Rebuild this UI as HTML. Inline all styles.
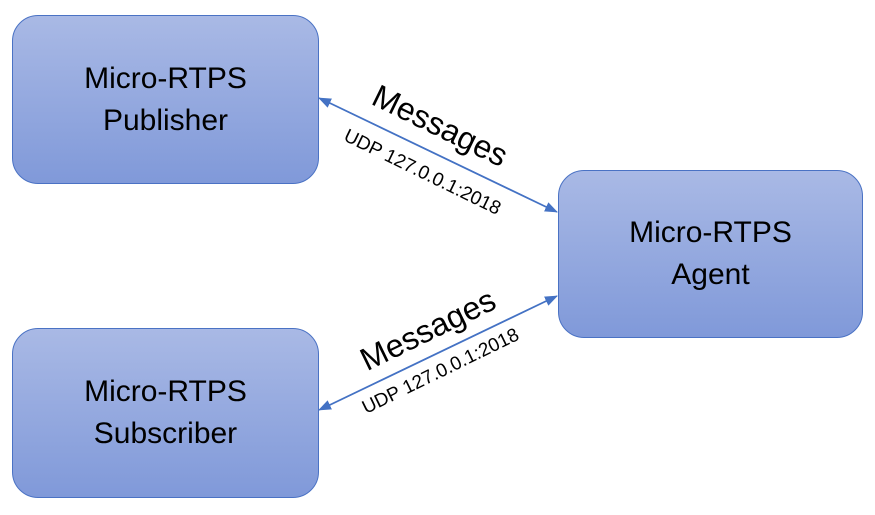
<!DOCTYPE html>
<html><head><style>
body{margin:0;width:875px;height:515px;background:#fff;position:relative;overflow:hidden;font-family:"Liberation Sans",sans-serif}
.b{position:absolute;box-sizing:border-box;border:1.5px solid #4a72c4;border-radius:26px;background:linear-gradient(#a9b9e5,#8099d9);display:flex;align-items:center;justify-content:center;text-align:center;font-size:30px;line-height:42px;color:#000}
.t{position:absolute;white-space:nowrap;transform:translate(-50%,-50%) rotate(var(--a))}
</style></head><body>
<div class="b" style="left:12px;top:15px;width:307px;height:169px">Micro-RTPS<br>Publisher</div>
<div class="b" style="left:12px;top:328px;width:307px;height:170px">Micro-RTPS<br>Subscriber</div>
<div class="b" style="left:558px;top:170px;width:305px;height:168px">Micro-RTPS<br>Agent</div>
<svg width="875" height="515" style="position:absolute;left:0;top:0">
<defs><marker id="m" markerWidth="13" markerHeight="10" refX="12" refY="5" orient="auto" markerUnits="userSpaceOnUse"><path d="M0,0L13,5L0,10z" fill="#4472c4"/></marker></defs>
<line x1="546" y1="207" x2="319" y2="98" stroke="#4472c4" stroke-width="1.5" marker-end="url(#m)"/>
<line x1="330" y1="103" x2="557" y2="212" stroke="#4472c4" stroke-width="1.5" marker-end="url(#m)"/>
<line x1="546" y1="301" x2="319" y2="410" stroke="#4472c4" stroke-width="1.5" marker-end="url(#m)"/>
<line x1="330" y1="405" x2="557" y2="296" stroke="#4472c4" stroke-width="1.5" marker-end="url(#m)"/>
</svg>
<div class="t" style="left:440px;top:126px;--a:26deg;font-size:32px">Messages</div>
<div class="t" style="left:422px;top:173px;--a:26deg;font-size:19px">UDP 127.0.0.1:2018</div>
<div class="t" style="left:428px;top:330px;--a:-26deg;font-size:32px">Messages</div>
<div class="t" style="left:441px;top:372px;--a:-26deg;font-size:19px">UDP 127.0.0.1:2018</div>
</body></html>
